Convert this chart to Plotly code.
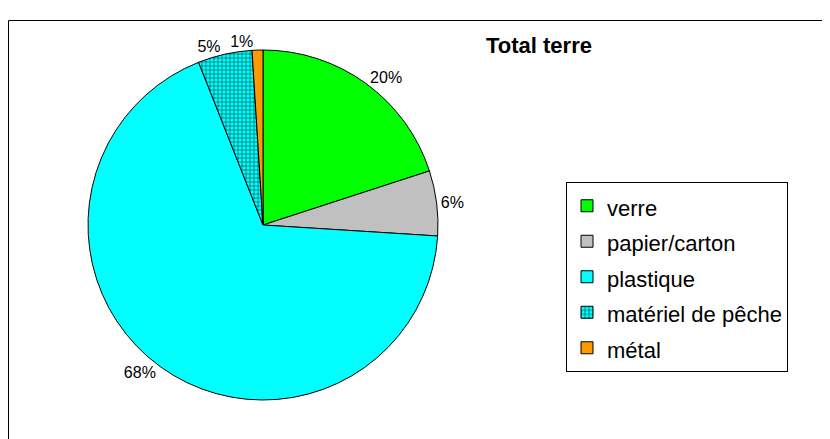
import plotly.graph_objects as go

categories = ["verre", "papier/carton", "plastique", "matériel de pêche", "métal"]
values = [20, 6, 68, 5, 1]
colors = ["#00FF00", "#C0C0C0", "#00FFFF", "#00FFFF", "#FF9900"]
patterns = ["", "", "", "+", ""]
title_text = "Total terre"

W, H = 830, 439
OFF = 8  # page body margin
cx, cy, r = 263 - OFF, 225 - OFF, 175

legend_labels = ['<span style="font-size:22px">%s</span>' % c for c in categories]
FONT = "Liberation Sans, Arial, sans-serif"
domain = dict(x=[(cx - r) / W, (cx + r) / W], y=[1 - (cy + r) / H, 1 - (cy - r) / H])

# labels: last (tiny) slice labelled by an overlay trace so that labels are not scooted
main_textpos = ["outside", "outside", "outside", "outside", "none"]
over_textpos = ["none", "none", "none", "none", "outside"]

fig = go.Figure()
fig.add_trace(go.Pie(
    labels=legend_labels,
    values=values,
    sort=False,
    direction="clockwise",
    rotation=0,
    marker=dict(
        colors=colors,
        line=dict(color="black", width=1),
        pattern=dict(shape=patterns, fgcolor="black", bgcolor=colors, size=4,
                     solidity=0.2, fgopacity=1),
    ),
    texttemplate="%{percent:.0%}",
    textposition=main_textpos,
    textfont=dict(family=FONT, size=16, color="black"),
    hoverinfo="skip",
    domain=domain,
))
fig.add_trace(go.Pie(
    labels=legend_labels,
    values=values,
    sort=False,
    direction="clockwise",
    rotation=0,
    marker=dict(colors=["rgba(0,0,0,0)"] * len(values),
                line=dict(color="rgba(0,0,0,0)", width=0)),
    texttemplate="%{percent:.0%}",
    textposition=over_textpos,
    textfont=dict(family=FONT, size=16, color="black"),
    hoverinfo="skip",
    showlegend=False,
    domain=domain,
))

fig.update_layout(
    width=W, height=H,
    margin=dict(l=0, r=0, t=0, b=0),
    paper_bgcolor="white",
    plot_bgcolor="white",
    font=dict(family=FONT, color="black"),
    title=dict(text="<b>%s</b>" % title_text, x=(539 - OFF) / W, xanchor="center",
               y=1 - (45 - OFF) / H, yanchor="middle",
               font=dict(size=22, family=FONT, color="black")),
    showlegend=True,
    legend=dict(x=(566 - OFF) / W, y=1 - (182 - OFF) / H, xanchor="left", yanchor="top",
                bordercolor="black", borderwidth=1, bgcolor="white",
                font=dict(size=25, family=FONT, color="black")),
    shapes=[dict(type="rect", xref="paper", yref="paper",
                 x0=0.5 / W, x1=1.05, y0=-0.05, y1=1 - 12.5 / H,
                 line=dict(color="black", width=1), fillcolor="rgba(0,0,0,0)", layer="below")],
)

fig.write_html("out.html")
